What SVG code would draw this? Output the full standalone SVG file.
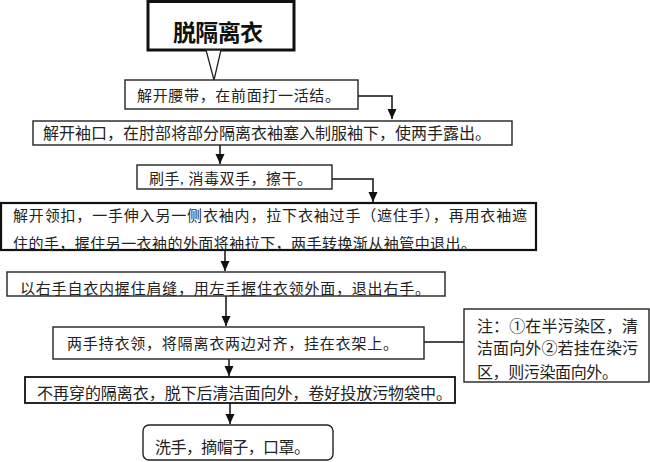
<svg xmlns="http://www.w3.org/2000/svg" width="650" height="462" viewBox="0 0 650 462">
<style>
.bx{fill:#fff;stroke:#222;stroke-width:1.4}
.t{font-family:"Liberation Serif","Noto Sans CJK SC",serif;font-size:15px;fill:#222}
.t16{font-size:16px}
.ln{fill:none;stroke:#111;stroke-width:1.5}
</style>
<defs>
<marker id="ah" markerUnits="userSpaceOnUse" markerWidth="10" markerHeight="10" refX="10" refY="4.5" orient="auto">
<path d="M0,0 L10,4.5 L0,9 z" fill="#111"/>
</marker>
</defs>
<rect width="650" height="462" fill="#fff"/>
<g id="connectors">
<path class="ln" d="M358,96 H392 V119" marker-end="url(#ah)"/>
<path class="ln" d="M220,145 V164" marker-end="url(#ah)"/>
<path class="ln" d="M332,179 H373 V202" marker-end="url(#ah)"/>
<path class="ln" d="M225,250 V271" marker-end="url(#ah)"/>
<path class="ln" d="M226,296 V326" marker-end="url(#ah)"/>
<path class="ln" d="M229,359 V376" marker-end="url(#ah)"/>
<path class="ln" d="M230,403 V424" marker-end="url(#ah)"/>
<path class="ln" d="M424,342 H464"/>
</g>
<g id="title">
<rect x="148" y="1.5" width="146" height="48.5" fill="#fff" stroke="#111" stroke-width="3"/>
<text x="173" y="41" class="t" style="font-size:23px;font-weight:bold;fill:#111" textLength="90" lengthAdjust="spacing">脱隔离衣</text>
<polygon points="206,50 221,50 214,80" fill="#fff" stroke="#222" stroke-width="1.3"/>
</g>
<g id="step1">
<rect class="bx" x="125" y="80" width="233" height="29"/>
<text class="t" x="137" y="101" textLength="203" lengthAdjust="spacing">解开腰带，在前面打一活结。</text>
</g>
<g id="step2">
<rect class="bx" x="33" y="121" width="479" height="24"/>
<text class="t t16" x="43" y="139" textLength="448" lengthAdjust="spacing">解开袖口，在肘部将部分隔离衣袖塞入制服袖下，使两手露出。</text>
</g>
<g id="step3">
<rect class="bx" x="137" y="165" width="195" height="24"/>
<text class="t" x="149" y="184" textLength="163" lengthAdjust="spacing">刷手, 消毒双手，擦干。</text>
</g>
<g id="step4">
<rect x="1" y="203" width="535" height="47" fill="#fff" stroke="#111" stroke-width="2.2"/>
<text class="t" x="13" y="221" textLength="514" lengthAdjust="spacing">解开领扣，一手伸入另一侧衣袖内，拉下衣袖过手（遮住手），再用衣袖遮</text>
<text class="t" x="13" y="249" textLength="463" lengthAdjust="spacing">住的手，握住另一衣袖的外面将袖拉下，两手转换渐从袖管中退出。</text>
</g>
<g id="step5">
<rect class="bx" x="7" y="272" width="438" height="24"/>
<text class="t" x="20" y="294" textLength="410" lengthAdjust="spacing">以右手自衣内握住肩缝，用左手握住衣领外面，退出右手。</text>
</g>
<g id="step6">
<rect class="bx" x="53" y="327" width="371" height="32"/>
<text class="t" x="67" y="349" textLength="331" lengthAdjust="spacing">两手持衣领，将隔离衣两边对齐，挂在衣架上。</text>
</g>
<g id="note">
<rect class="bx" x="464" y="309" width="185" height="73"/>
<text class="t t16" x="477" y="332" textLength="161" lengthAdjust="spacing">注：①在半污染区，清</text>
<text class="t t16" x="477" y="354" textLength="161" lengthAdjust="spacing">洁面向外②若挂在染污</text>
<text class="t t16" x="477" y="378" textLength="141" lengthAdjust="spacing">区，则污染面向外。</text>
</g>
<g id="step7">
<rect x="25" y="377" width="430" height="26" fill="#fff" stroke="#111" stroke-width="1.8"/>
<text class="t t16" x="37" y="399" textLength="415" lengthAdjust="spacing">不再穿的隔离衣，脱下后清洁面向外，卷好投放污物袋中。</text>
</g>
<g id="step8">
<rect class="bx" x="143" y="425" width="190" height="35" rx="6" ry="6"/>
<text class="t t16" x="155" y="453" textLength="155" lengthAdjust="spacing">洗手，摘帽子，口罩。</text>
</g>
</svg>
